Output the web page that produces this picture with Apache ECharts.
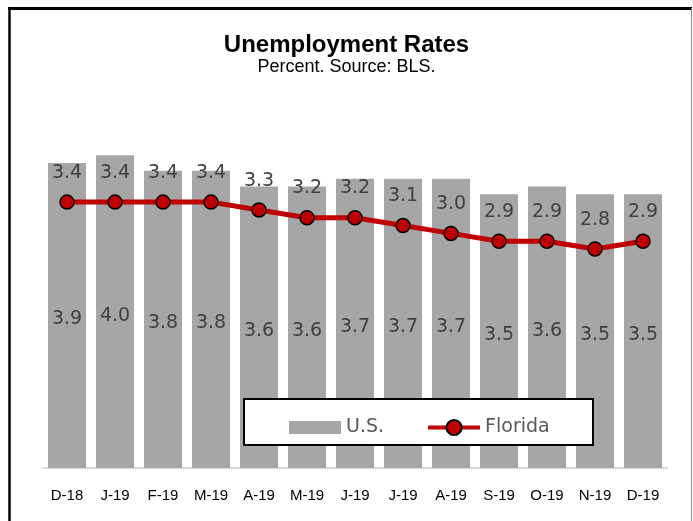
<!DOCTYPE html>
<html>
<head>
<meta charset="utf-8">
<script src="https://cdn.jsdelivr.net/npm/echarts@6/dist/echarts.min.js"></script>
<style>
  html, body { margin: 0; padding: 0; background: #fff; }
  #chart { width: 693px; height: 521px; }
</style>
</head>
<body>
<div id="chart"></div>
<script>
// Monthly unemployment rates, Dec 2018 – Dec 2019
const months = ['D-18', 'J-19', 'F-19', 'M-19', 'A-19', 'M-19', 'J-19', 'J-19', 'A-19', 'S-19', 'O-19', 'N-19', 'D-19'];
const usRate = [3.9, 4.0, 3.8, 3.8, 3.6, 3.6, 3.7, 3.7, 3.7, 3.5, 3.6, 3.5, 3.5];
const floridaRate = [3.4, 3.4, 3.4, 3.4, 3.3, 3.2, 3.2, 3.1, 3.0, 2.9, 2.9, 2.8, 2.9];

const chart = echarts.init(document.getElementById('chart'));

const labelFont = 'DejaVu Sans';
const red = '#C00000';

chart.setOption({
  animation: false,
  backgroundColor: '#fff',
  title: {
    text: 'Unemployment Rates',
    subtext: 'Percent. Source: BLS.',
    left: 'center',
    top: 28,
    itemGap: 1,
    textStyle: { fontFamily: 'Liberation Sans', fontWeight: 'bold', fontSize: 24, color: '#000' },
    subtextStyle: { fontFamily: 'Liberation Sans', fontSize: 18, color: '#000' }
  },
  legend: {
    left: 289,
    top: 418,
    padding: 0,
    itemGap: 42,
    itemWidth: 52,
    itemHeight: 19,
    textStyle: { fontFamily: labelFont, fontSize: 19, color: '#595959' },
    data: [
      // swatch drawn with blank margins so it stays thinner than the marker
      { name: 'U.S.', icon: 'path://M0,0M0,3H52V16H0ZM52,19' },
      { name: 'Florida', lineStyle: { width: 4, color: red } }
    ],
    z: 12
  },
  grid: { left: 43, right: 26, top: 77, bottom: 53, containLabel: false },
  xAxis: {
    type: 'category',
    data: months,
    axisLine: { lineStyle: { color: '#d9d9d9', width: 2 } },
    axisTick: { show: false },
    axisLabel: { fontFamily: 'Liberation Sans', fontSize: 15, color: '#000', margin: 20, interval: 0 }
  },
  yAxis: {
    type: 'value',
    min: 0,
    max: 5,
    show: false,
    splitLine: { show: false }
  },
  series: [
    {
      name: 'U.S.',
      type: 'bar',
      data: usRate,
      barWidth: 38,
      itemStyle: { color: '#a6a6a6' },
      label: {
        show: true,
        position: 'inside',
        offset: [0, 4],
        formatter: p => p.value.toFixed(1),
        fontFamily: labelFont,
        fontSize: 19,
        color: '#404040'
      },
      z: 1
    },
    {
      name: 'Florida',
      type: 'line',
      data: floridaRate,
      symbol: 'circle',
      symbolSize: 14,
      lineStyle: { color: red, width: 5 },
      itemStyle: { color: red, borderColor: '#000', borderWidth: 1.5 },
      label: {
        show: true,
        position: 'top',
        distance: 12,
        formatter: p => p.value.toFixed(1),
        fontFamily: labelFont,
        fontSize: 19,
        color: '#404040'
      },
      z: 3
    }
  ],
  graphic: [
    // legend frame
    { type: 'rect', shape: { x: 244, y: 399, width: 349, height: 46 }, style: { fill: '#fff', stroke: '#000', lineWidth: 2 }, z: 11 },
    // chart frame
    { type: 'line', shape: { x1: 8, y1: 8.5, x2: 692, y2: 8.5 }, style: { stroke: '#000', lineWidth: 3 }, z: 10 },
    { type: 'line', shape: { x1: 9.5, y1: 7, x2: 9.5, y2: 521 }, style: { stroke: '#000', lineWidth: 2.5 }, z: 10 },
    { type: 'line', shape: { x1: 691.5, y1: 8, x2: 691.5, y2: 521 }, style: { stroke: '#8c8c8c', lineWidth: 1 }, z: 10 }
  ]
});
</script>
</body>
</html>
